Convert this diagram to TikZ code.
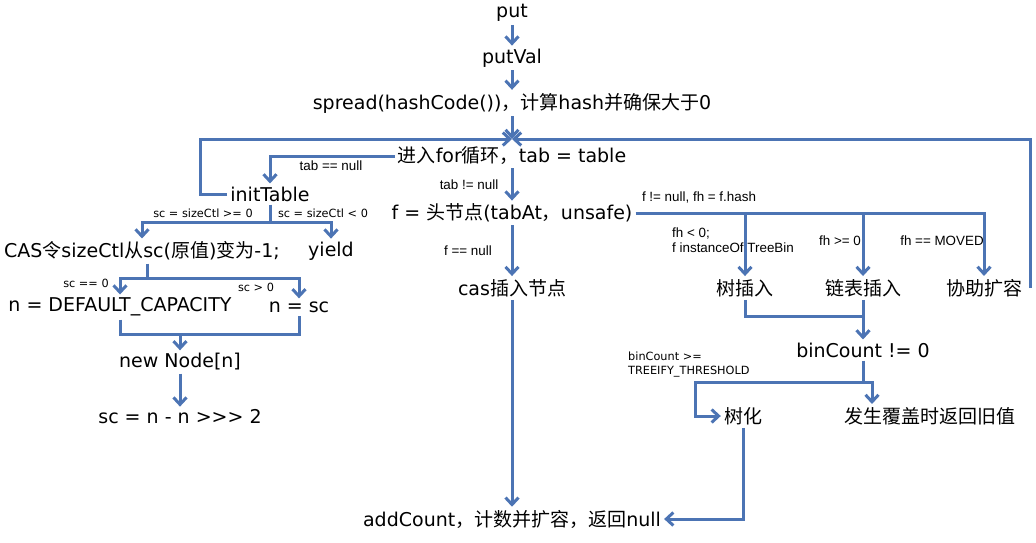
\documentclass[tikz,border=0pt]{standalone}
\usepackage{fontspec}
\setmainfont{DejaVu Sans}
\newfontfamily\zh{Noto Sans CJK SC}
\newfontfamily\lab{Liberation Sans}
\usetikzlibrary{arrows.meta}
\definecolor{cLine}{RGB}{76,116,180}
\newcommand{\hz}[1]{{\zh #1}}
\tikzset{
	stage/.style ={inner sep=3pt, font=\fontsize{19}{22}\selectfont},
	cond/.style  ={inner sep=0pt, align=left, font=\fontsize{11.3}{14}\selectfont},
	condb/.style ={inner sep=0pt, align=left, font=\lab\fontsize{13.4}{15.5}\selectfont},
	wire/.style  ={line width=3pt, cLine},
	sig/.style   ={wire, -{Straight Barb[length=7pt,width=13pt]}},
}
\begin{document}
\begin{tikzpicture}[x=1pt, y=-1pt]
	\useasboundingbox (0,0) rectangle (1036,542);
	% main column
	\node[stage] (put)     at (512,13)  {put};
	\node[stage] (putval)  at (512,58)  {putVal};
	\node[stage] (spread)  at (512,103) {spread(hashCode())\hz{，计算}hash\hz{并确保大于}0};
	\node[stage] (forloop) at (512,156) {\hz{进入}for\hz{循环，}tab = table};
	\node[stage] (head)    at (512,213) {f = \hz{头节点}(tabAt\hz{，}unsafe)};
	\node[stage] (casins)  at (512,288) {cas\hz{插入节点}};
	\node[stage] (addcnt)  at (512,519) {addCount\hz{，计数并扩容，返回}null};
	% initTable branch
	\node[stage] (inittab) at (270,194) {initTable};
	\node[stage] (cas)     at (142,251) {CAS\hz{令}sizeCtl\hz{从}sc(\hz{原值})\hz{变为}-1;};
	\node[stage] (yield)   at (331,251) {yield};
	\node[stage] (ndef)    at (120,307) {n = DEFAULT\_CAPACITY};
	\node[stage] (nsc)     at (299,307) {n = sc};
	\node[stage] (newnode) at (180,362) {new Node[n]};
	\node[stage] (scset)   at (180,417) {sc = n - n >{}>{}> 2};
	% head node branches
	\node[stage] (treeins) at (745,288) {\hz{树插入}};
	\node[stage] (listins) at (863,288) {\hz{链表插入}};
	\node[stage] (helpres) at (984,288) {\hz{协助扩容}};
	\node[stage] (bincnt)  at (863,350) {binCount != 0};
	\node[stage] (treeify) at (743,416) {\hz{树化}};
	\node[stage] (retold)  at (930,416) {\hz{发生覆盖时返回旧值}};
	% junctions
	\coordinate (m)  at (512,139);
	\coordinate (lp) at (200,139);
	\coordinate (rp) at (1030,139);
	\coordinate (j1) at (270,222);
	\coordinate (j2) at (147,278);
	\coordinate (j3) at (180,334);
	\coordinate (j5) at (863,316);
	\coordinate (j6) at (863,382);
	\coordinate (j7) at (872,382);
	\coordinate (j8) at (695,382);
	% labels
	\node[condb] (l1) at (331,166) {tab == null};
	\node[condb] (l2) at (469,185) {tab != null};
	\node[condb] (l3) at (468,251) {f == null};
	\node[cond]  (l4) at (203,213) {sc = sizeCtl >= 0};
	\node[cond]  (l5) at (323,213) {sc = sizeCtl < 0};
	\node[cond]  (l6) at (86,283)  {sc == 0};
	\node[cond]  (l7) at (256,287) {sc > 0};
	\node[condb] (l8) at (699,197) {f != null, fh = f.hash};
	\node[condb, anchor=west] (l9) at (672,240) {fh < 0;\\f instanceOf TreeBin};
	\node[condb] (l10) at (840,241) {fh >= 0};
	\node[condb] (l11) at (942,241) {fh == MOVED};
	\node[cond, anchor=west] (l12) at (628,365) {binCount >=\\TREEIFY\_THRESHOLD};
	% connectors
	\draw[sig] (put) -- (putval);
	\draw[sig] (putval) -- (spread);
	\draw[sig] (spread) -- (m);
	\draw[sig] (inittab.west) -| (lp) -- (m);
	\draw[sig] (helpres.east -| rp) -- (rp) -- (m);
	\draw[sig] (forloop.west) -| (inittab);
	\draw[sig] (forloop) -- (head);
	\draw[wire] (inittab) -- (j1);
	\draw[sig] (j1) -| (cas);
	\draw[sig] (j1) -| (yield);
	\draw[wire] (cas.south -| j2) -- (j2);
	\draw[sig] (j2) -| (ndef);
	\draw[sig] (j2) -| (nsc);
	\draw[wire] (ndef.south) |- (j3) -| (nsc.south);
	\draw[sig] (j3) -- (newnode);
	\draw[sig] (newnode) -- (scset);
	\draw[sig] (head) -- (casins);
	\draw[sig] (casins) -- (addcnt);
	\draw[sig] (head.east) -| (helpres);
	\draw[sig] (treeins |- head.east) -- (treeins);
	\draw[sig] (listins |- head.east) -- (listins);
	\draw[wire] (treeins.south) |- (j5);
	\draw[sig] (listins) -- (bincnt);
	\draw[wire] (bincnt) -- (j6);
	\draw[sig] (j6) -- (j7) -- (j7 |- retold.north);
	\draw[sig] (j6) -- (j8) |- (treeify);
	\draw[sig] (treeify.south) |- (addcnt);
\end{tikzpicture}
\end{document}
